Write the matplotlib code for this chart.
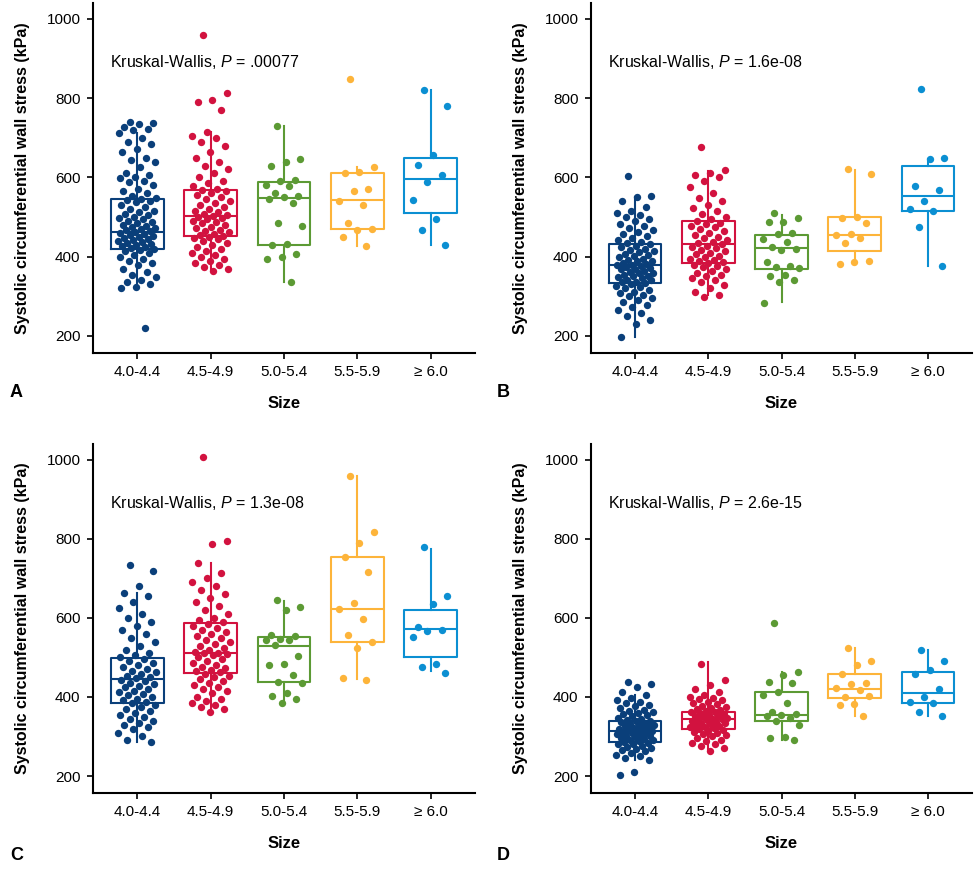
import matplotlib
matplotlib.use("Agg")
import matplotlib.pyplot as plt

plt.rcParams['font.family'] = ['Liberation Sans', 'DejaVu Sans']
plt.rcParams['mathtext.fontset'] = 'custom'
plt.rcParams['mathtext.rm'] = 'Liberation Sans'
plt.rcParams['mathtext.it'] = 'Liberation Sans:italic'

categorias = ["4.0-4.4", "4.5-4.9", "5.0-5.4", "5.5-5.9", "\u2265 6.0"]
colores = ["#0a3f7a", "#d2123f", "#5c9a34", "#fdb43a", "#0b8fd2"]

# valores de P por panel
p_valores = [".00077", "1.6e-08", "1.3e-08", "2.6e-15"]
letras = ["A", "B", "C", "D"]

# ---- panel A: puntos (kPa) ----
a_g1 = [740, 737, 735, 728, 722, 720, 713, 700, 690, 685, 672, 665, 650, 645, 640, 625, 612,
        605, 600, 598, 592, 588, 580, 572, 565, 560, 553, 548, 545, 542, 540, 538, 530, 525,
        520, 515, 512, 508, 505, 500, 498, 495, 490, 487, 485, 480, 478, 475, 472, 470, 468,
        465, 463, 460, 458, 455, 452, 450, 448, 445, 442, 440, 438, 435, 432, 430, 428, 425,
        422, 420, 418, 415, 410, 405, 400, 395, 390, 385, 378, 370, 362, 355, 348, 340, 335,
        330, 323, 320, 220]
a_g2 = [960, 814, 796, 790, 770, 714, 705, 700, 690, 680, 665, 650, 640, 630, 620, 610, 600,
        592, 585, 578, 572, 569, 565, 560, 555, 550, 545, 540, 535, 530, 525, 520, 515, 512,
        508, 505, 503, 500, 497, 494, 490, 487, 484, 480, 476, 472, 468, 465, 462, 458, 455,
        452, 450, 447, 444, 440, 435, 430, 425, 420, 415, 410, 405, 400, 395, 390, 385, 380,
        375, 370, 365]
a_g3 = [730, 647, 639, 629, 594, 590, 580, 578, 560, 554, 550, 545, 535, 486, 478, 432, 429,
        406, 399, 395, 336]
a_g4 = [849, 626, 614, 610, 570, 566, 541, 531, 485, 471, 467, 449, 428]
a_g5 = [821, 780, 657, 631, 605, 589, 542, 495, 467, 430]

# ---- panel B ----
b_g1 = [603, 553, 550, 540, 525, 515, 510, 505, 500, 495, 490, 482, 478, 472, 468, 462, 458,
        452, 448, 442, 438, 435, 432, 428, 425, 420, 418, 415, 412, 408, 405, 402, 398, 395,
        392, 390, 388, 385, 382, 380, 378, 376, 374, 372, 370, 368, 365, 362, 360, 358, 355,
        352, 350, 348, 345, 342, 340, 337, 335, 333, 330, 327, 324, 320, 316, 312, 308, 304,
        300, 295, 290, 285, 278, 272, 265, 258, 250, 240, 230, 197]
b_g2 = [676, 619, 612, 605, 601, 590, 575, 560, 548, 540, 530, 522, 515, 508, 500, 495, 490,
        486, 482, 478, 474, 470, 465, 460, 455, 450, 446, 442, 438, 434, 431, 428, 425, 422,
        418, 414, 410, 406, 402, 398, 395, 392, 389, 386, 383, 380, 377, 374, 370, 365, 360,
        355, 350, 345, 340, 335, 328, 320, 310, 303, 299]
b_g3 = [511, 497, 488, 488, 459, 457, 444, 438, 425, 419, 417, 387, 377, 373, 371, 354, 352,
        340, 335, 284]
b_g4 = [621, 609, 500, 497, 485, 457, 455, 448, 435, 388, 386, 381]
b_g5 = [823, 650, 646, 579, 567, 540, 521, 516, 475, 377]

# ---- panel C ----
c_g1 = [734, 719, 680, 664, 655, 640, 625, 610, 600, 590, 580, 570, 560, 550, 540, 530, 520,
        512, 505, 500, 496, 490, 485, 480, 475, 470, 466, 462, 458, 454, 450, 447, 444, 440,
        436, 432, 428, 424, 420, 416, 412, 408, 404, 400, 396, 392, 388, 384, 380, 375, 370,
        365, 360, 355, 350, 345, 340, 335, 330, 325, 318, 310, 300, 290, 287]
c_g2 = [1006, 794, 787, 739, 714, 700, 690, 680, 670, 660, 650, 640, 630, 620, 610, 600, 595,
        590, 585, 580, 575, 570, 565, 560, 555, 550, 545, 540, 535, 530, 525, 520, 515, 512,
        510, 508, 505, 500, 495, 490, 485, 480, 476, 472, 468, 465, 462, 458, 454, 450, 445,
        440, 435, 430, 425, 420, 415, 410, 400, 395, 390, 385, 380, 375, 370, 363]
c_g3 = [645, 627, 620, 556, 554, 547, 545, 543, 531, 504, 483, 481, 456, 437, 435, 409, 403,
        394, 384]
c_g4 = [958, 818, 790, 753, 716, 638, 623, 596, 556, 539, 525, 448, 444]
c_g5 = [779, 655, 635, 576, 570, 566, 551, 483, 476, 461]

# ---- panel D ----
d_g1 = [439, 432, 425, 412, 404, 398, 392, 388, 385, 380, 376, 372, 368, 365, 362, 360, 357,
        354, 351, 348, 345, 342, 340, 338, 336, 334, 332, 330, 328, 326, 324, 322, 320, 318,
        316, 314, 313, 312, 310, 308, 306, 304, 302, 300, 298, 296, 294, 292, 290, 288, 286,
        284, 282, 280, 277, 274, 271, 268, 265, 262, 258, 254, 250, 245, 241, 210, 202]
d_g2 = [483, 444, 430, 420, 412, 405, 400, 398, 395, 392, 388, 385, 382, 378, 375, 372, 370,
        368, 365, 363, 361, 359, 357, 355, 353, 351, 349, 347, 345, 344, 343, 341, 339, 337,
        335, 333, 331, 329, 327, 325, 323, 321, 319, 317, 315, 312, 309, 306, 303, 300, 296,
        292, 288, 284, 280, 275, 270, 262]
d_g3 = [586, 464, 456, 438, 436, 413, 406, 384, 362, 358, 355, 351, 348, 339, 329, 298, 296,
        292]
d_g4 = [523, 491, 481, 459, 436, 433, 422, 418, 400, 402, 382, 380, 351]
d_g5 = [520, 492, 467, 457, 421, 400, 386, 384, 361, 353]

# ---- estadisticos de las cajas ----
# orden: mediana, q1, q3, bigote inferior, bigote superior
a_med = [462, 503, 547, 542, 596]
a_q1 = [420, 451, 430, 471, 509]
a_q3 = [545, 569, 588, 610, 650]
a_wlo = [323, 365, 335, 428, 430]
a_whi = [713, 714, 730, 627, 821]

b_med = [378, 431, 422, 454, 552]
b_q1 = [334, 383, 369, 415, 516]
b_q3 = [433, 490, 454, 501, 630]
b_wlo = [197, 303, 286, 383, 377]
b_whi = [550, 616, 505, 619, 646]

c_med = [446, 510, 530, 623, 571]
c_q1 = [384, 461, 437, 539, 500]
c_q3 = [498, 587, 552, 753, 621]
c_wlo = [287, 363, 386, 445, 466]
c_whi = [664, 739, 643, 958, 775]

d_med = [313, 344, 354, 421, 410]
d_q1 = [286, 319, 339, 398, 385]
d_q3 = [339, 363, 413, 459, 464]
d_wlo = [241, 262, 292, 351, 353]
d_whi = [404, 489, 464, 523, 519]

paneles = [
    ([a_g1, a_g2, a_g3, a_g4, a_g5], [a_med, a_q1, a_q3, a_wlo, a_whi]),
    ([b_g1, b_g2, b_g3, b_g4, b_g5], [b_med, b_q1, b_q3, b_wlo, b_whi]),
    ([c_g1, c_g2, c_g3, c_g4, c_g5], [c_med, c_q1, c_q3, c_wlo, c_whi]),
    ([d_g1, d_g2, d_g3, d_g4, d_g5], [d_med, d_q1, d_q3, d_wlo, d_whi]),
]

W, H = 975, 873
fig = plt.figure(figsize=(W / 100, H / 100), dpi=100)

# posiciones de los ejes en pixeles (izq, arriba, der, abajo)
cajas_px = [(93, 3, 475, 353), (591, 3, 972, 353), (93, 444, 475, 793), (591, 444, 972, 793)]


def jitter(n, ancho=0.26):
    # desplazamiento horizontal determinista (secuencia aurea)
    return [((i * 0.6180339887 + 0.31) % 1.0 - 0.5) * 2 * ancho for i in range(n)]


for k, (grupos, stats) in enumerate(paneles):
    l, t, r, b = cajas_px[k]
    ax = fig.add_axes([l / W, 1 - b / H, (r - l) / W, (b - t) / H])
    med, q1, q3, wlo, whi = stats

    for i in range(5):
        x = i + 1
        st = [dict(med=med[i], q1=q1[i], q3=q3[i], whislo=wlo[i], whishi=whi[i], fliers=[])]
        props = dict(color=colores[i], linewidth=1.5)
        ax.bxp(st, positions=[x], widths=0.72, showfliers=False, showcaps=False,
               boxprops=props, whiskerprops=props, medianprops=props, manage_ticks=False)
        vals = grupos[i]
        xs = [x + d for d in jitter(len(vals))]
        ax.scatter(xs, vals, s=28, color=colores[i], linewidths=0, zorder=3)

    ax.set_xlim(0.4, 5.6)
    ax.set_ylim(157, 1040)
    ax.set_xticks(range(1, 6))
    ax.set_xticklabels(categorias)
    ax.set_yticks([200, 400, 600, 800, 1000])
    ax.tick_params(labelsize=11, length=4, width=1.2, pad=5, colors="black")
    for lado in ["top", "right"]:
        ax.spines[lado].set_visible(False)
    for lado in ["left", "bottom"]:
        ax.spines[lado].set_linewidth(1.5)

    ax.set_xlabel("Size", fontsize=12, fontweight="bold")
    ax.xaxis.set_label_coords(0.5, -0.123)
    ax.set_ylabel("Systolic circumferential wall stress (kPa)", fontsize=11.5, fontweight="bold")
    ax.yaxis.set_label_coords(-0.165, 0.5)

    ax.text(0.63, 891, "Kruskal-Wallis, $\\mathit{P}$ = " + p_valores[k], fontsize=11.5,
            va="center", ha="left")

    fig.text((10 if k % 2 == 0 else 497) / W, 1 - ((393 if k < 2 else 855)) / H, letras[k],
             fontsize=13, fontweight="bold", va="center", ha="left")

plt.savefig("out.png", dpi=100)
